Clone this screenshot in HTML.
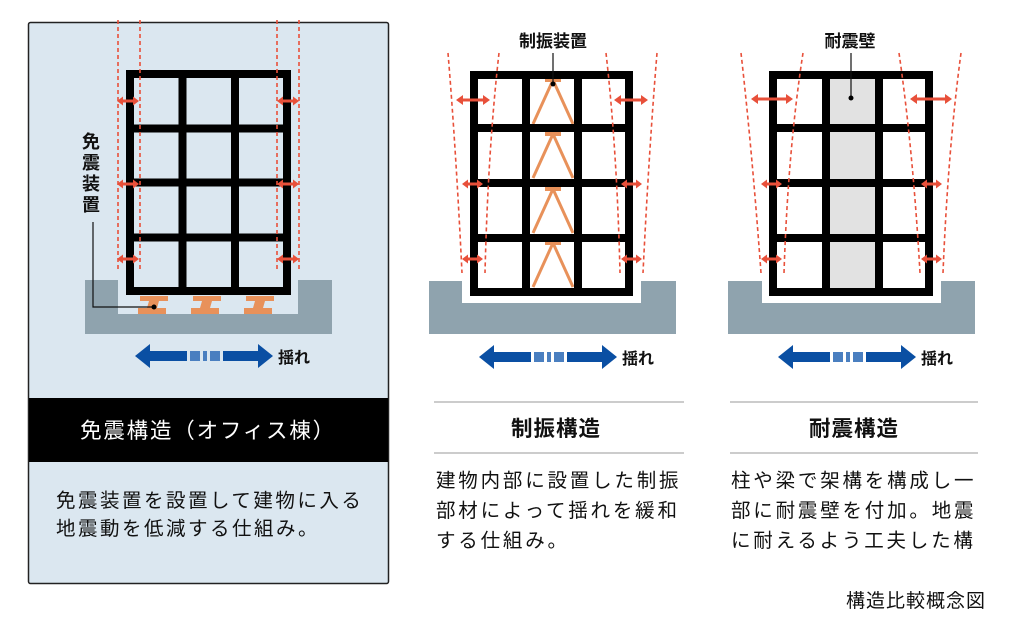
<!DOCTYPE html>
<html><head><meta charset="utf-8"><style>
html,body{margin:0;padding:0;background:#fff;}
body{width:1017px;height:629px;overflow:hidden;font-family:"Liberation Sans","Noto Sans CJK JP",sans-serif;}
svg text{font-family:"Liberation Sans","Noto Sans CJK JP",sans-serif;}
</style></head><body>
<svg width="1017" height="629" viewBox="0 0 1017 629" xmlns="http://www.w3.org/2000/svg">
<rect x="28.5" y="22.5" width="360" height="561" fill="#dbe7f0" stroke="#222" stroke-width="1.5" rx="2"/>
<rect x="29" y="398" width="359" height="64" fill="#000"/>
<text x="208" y="438" font-size="21.5" fill="#fff" text-anchor="middle" letter-spacing="1.8">免震構造（オフィス棟）</text>
<text x="56" y="507" font-size="19.5" fill="#111" letter-spacing="2.5">免震装置を設置して建物に入る</text>
<text x="56" y="535" font-size="19.5" fill="#111" letter-spacing="2.5">地震動を低減する仕組み。</text>

<path d="M85 280 H118 V314 H298 V280 H332 V334 H85 Z" fill="#8fa3ae"/>
<g fill="#e8915a">
<path d="M140 296 h28 v5 h-9 l-2 7 h9 v6 h-28 v-6 h9 l2 -7 h-9 z"/>
<path d="M193 296 h28 v5 h-9 l-2 7 h9 v6 h-28 v-6 h9 l2 -7 h-9 z"/>
<path d="M246 296 h28 v5 h-9 l-2 7 h9 v6 h-28 v-6 h9 l2 -7 h-9 z"/>
</g>
<g fill="none" stroke="#000" stroke-width="8">
<rect x="130" y="74" width="157" height="217"/>
<line x1="182.5" y1="74" x2="182.5" y2="291"/><line x1="235" y1="74" x2="235" y2="291"/>
<line x1="130" y1="128.5" x2="287" y2="128.5"/><line x1="130" y1="182.5" x2="287" y2="182.5"/><line x1="130" y1="237.5" x2="287" y2="237.5"/>
</g>
<g stroke="#e8503a" stroke-width="1.6" stroke-dasharray="4,3">
<line x1="118" y1="20" x2="118" y2="272"/><line x1="140" y1="20" x2="140" y2="272"/>
<line x1="277" y1="20" x2="277" y2="272"/><line x1="299" y1="20" x2="299" y2="272"/>
</g>
<g fill="#e8503a">
<path d="M117 101 l6 -4.5 v3 h10 v-3 l6 4.5 l-6 4.5 v-3 h-10 v3 z"/>
<path d="M117 184 l6 -4.5 v3 h10 v-3 l6 4.5 l-6 4.5 v-3 h-10 v3 z"/>
<path d="M117 259 l6 -4.5 v3 h10 v-3 l6 4.5 l-6 4.5 v-3 h-10 v3 z"/>
<path d="M277 101 l6 -4.5 v3 h10 v-3 l6 4.5 l-6 4.5 v-3 h-10 v3 z"/>
<path d="M277 184 l6 -4.5 v3 h10 v-3 l6 4.5 l-6 4.5 v-3 h-10 v3 z"/>
<path d="M277 259 l6 -4.5 v3 h10 v-3 l6 4.5 l-6 4.5 v-3 h-10 v3 z"/>
</g>
<text x="91" y="148" font-size="18" font-weight="bold" fill="#111" text-anchor="middle">免</text>
<text x="91" y="169" font-size="18" font-weight="bold" fill="#111" text-anchor="middle">震</text>
<text x="91" y="190" font-size="18" font-weight="bold" fill="#111" text-anchor="middle">装</text>
<text x="91" y="211" font-size="18" font-weight="bold" fill="#111" text-anchor="middle">置</text>
<polyline points="93,222 93,307 154,307" fill="none" stroke="#111" stroke-width="1.2"/>
<circle cx="154" cy="307" r="2.5" fill="#000"/>

<path d="M429 281 H462 V303 H641 V281 H676 V334 H429 Z" fill="#8fa3ae"/>
<g fill="#e8915a" stroke="#e8915a" stroke-width="3">
<g id="br"><rect x="545" y="78" width="16" height="4" stroke="none"/><path d="M553 80 L533 124 M553 80 L573 124" fill="none"/></g>
<use href="#br" y="54"/><use href="#br" y="109"/><use href="#br" y="163"/>
</g>
<g fill="none" stroke="#000" stroke-width="8">
<rect x="474" y="75" width="155" height="217"/>
<line x1="526" y1="75" x2="526" y2="292"/><line x1="578" y1="75" x2="578" y2="292"/>
<line x1="474" y1="128" x2="629" y2="128"/><line x1="474" y1="183" x2="629" y2="183"/><line x1="474" y1="238" x2="629" y2="238"/>
</g>
<g stroke="#e8503a" stroke-width="1.6" stroke-dasharray="4,3" fill="none">
<path d="M448 53 Q456 150 462 273"/><path d="M499 53 Q488 150 485 273"/>
<path d="M606 53 Q617 150 620 273"/><path d="M657 53 Q649 150 643 273"/>
</g>
<g fill="#e8503a">
<path d="M456 100 l7 -5 v3.5 h20 v-3.5 l7 5 l-7 5 v-3.5 h-20 v3.5 z"/>
<path d="M614 100 l7 -5 v3.5 h20 v-3.5 l7 5 l-7 5 v-3.5 h-20 v3.5 z"/>
<path d="M462 184 l6 -4.5 v3 h9 v-3 l6 4.5 l-6 4.5 v-3 h-9 v3 z"/>
<path d="M462 259 l6 -4.5 v3 h9 v-3 l6 4.5 l-6 4.5 v-3 h-9 v3 z"/>
<path d="M621 184 l6 -4.5 v3 h9 v-3 l6 4.5 l-6 4.5 v-3 h-9 v3 z"/>
<path d="M621 259 l6 -4.5 v3 h9 v-3 l6 4.5 l-6 4.5 v-3 h-9 v3 z"/>
</g>
<text x="553" y="47" font-size="17" font-weight="bold" fill="#111" text-anchor="middle">制振装置</text>
<line x1="553" y1="53" x2="553" y2="84" stroke="#111" stroke-width="1.2"/>
<circle cx="553" cy="84" r="2.5" fill="#000"/>
<line x1="434" y1="402" x2="684" y2="402" stroke="#bbb" stroke-width="1.5"/>
<line x1="434" y1="453" x2="684" y2="453" stroke="#bbb" stroke-width="1.5"/>
<text x="556" y="436" font-size="21.5" font-weight="bold" fill="#111" text-anchor="middle" letter-spacing="1">制振構造</text>
<text x="436" y="487" font-size="19.5" fill="#111" letter-spacing="2.8">建物内部に設置した制振</text>
<text x="436" y="517" font-size="19.5" fill="#111" letter-spacing="2.8">部材によって揺れを緩和</text>
<text x="436" y="547" font-size="19.5" fill="#111" letter-spacing="2.8">する仕組み。</text>

<path d="M728 281 H762 V303 H941 V281 H975 V334 H728 Z" fill="#8fa3ae"/>
<rect x="830" y="75" width="46" height="217" fill="#e2e2e2"/>
<g fill="none" stroke="#000" stroke-width="8">
<rect x="773" y="75" width="156" height="217"/>
<line x1="826" y1="75" x2="826" y2="292"/><line x1="879" y1="75" x2="879" y2="292"/>
<line x1="773" y1="128" x2="929" y2="128"/><line x1="773" y1="183" x2="929" y2="183"/><line x1="773" y1="238" x2="929" y2="238"/>
</g>
<g stroke="#e8503a" stroke-width="1.6" stroke-dasharray="4,3" fill="none">
<path d="M741 53 Q752 150 761 273"/><path d="M803 53 Q788 150 784 273"/>
<path d="M899 53 Q913 150 920 273"/><path d="M961 53 Q948 150 943 273"/>
</g>
<g fill="#e8503a">
<path d="M751 99 l7 -5 v3.5 h28 v-3.5 l7 5 l-7 5 v-3.5 h-28 v3.5 z"/>
<path d="M910 99 l7 -5 v3.5 h28 v-3.5 l7 5 l-7 5 v-3.5 h-28 v3.5 z"/>
<path d="M761 184 l6 -4.5 v3 h9 v-3 l6 4.5 l-6 4.5 v-3 h-9 v3 z"/>
<path d="M761 259 l6 -4.5 v3 h9 v-3 l6 4.5 l-6 4.5 v-3 h-9 v3 z"/>
<path d="M921 184 l6 -4.5 v3 h9 v-3 l6 4.5 l-6 4.5 v-3 h-9 v3 z"/>
<path d="M921 259 l6 -4.5 v3 h9 v-3 l6 4.5 l-6 4.5 v-3 h-9 v3 z"/>
</g>
<text x="850" y="47" font-size="17" font-weight="bold" fill="#111" text-anchor="middle">耐震壁</text>
<line x1="851" y1="53" x2="851" y2="98" stroke="#111" stroke-width="1.2"/>
<circle cx="851" cy="98" r="2.5" fill="#000"/>
<line x1="730" y1="402" x2="978" y2="402" stroke="#bbb" stroke-width="1.5"/>
<line x1="730" y1="453" x2="978" y2="453" stroke="#bbb" stroke-width="1.5"/>
<text x="854" y="436" font-size="21.5" font-weight="bold" fill="#111" text-anchor="middle" letter-spacing="1">耐震構造</text>
<text x="731" y="487" font-size="19.5" fill="#111" letter-spacing="2.8">柱や梁で架構を構成し一</text>
<text x="731" y="517" font-size="19.5" fill="#111" letter-spacing="2.8">部に耐震壁を付加。地震</text>
<text x="731" y="547" font-size="19.5" fill="#111" letter-spacing="2.8">に耐えるよう工夫した構</text>
<text x="986" y="607" font-size="19" fill="#111" text-anchor="end" letter-spacing="1">構造比較概念図</text>

<g id="ba">
<path d="M135 356 L150 344 V351 H187 V361 H150 V368 Z" fill="#0a4fa3"/>
<rect x="190" y="351" width="10" height="10" fill="#4a7fc0"/>
<rect x="203" y="351" width="4" height="10" fill="#4a7fc0"/>
<rect x="210" y="351" width="10" height="10" fill="#4a7fc0"/>
<path d="M273 356 L258 344 V351 H223 V361 H258 V368 Z" fill="#0a4fa3"/>
<text x="278" y="363" font-size="16" font-weight="bold" fill="#111">揺れ</text>
</g>
<use href="#ba" x="344" y="1"/>
<use href="#ba" x="643" y="1"/>
</svg>
</body></html>
